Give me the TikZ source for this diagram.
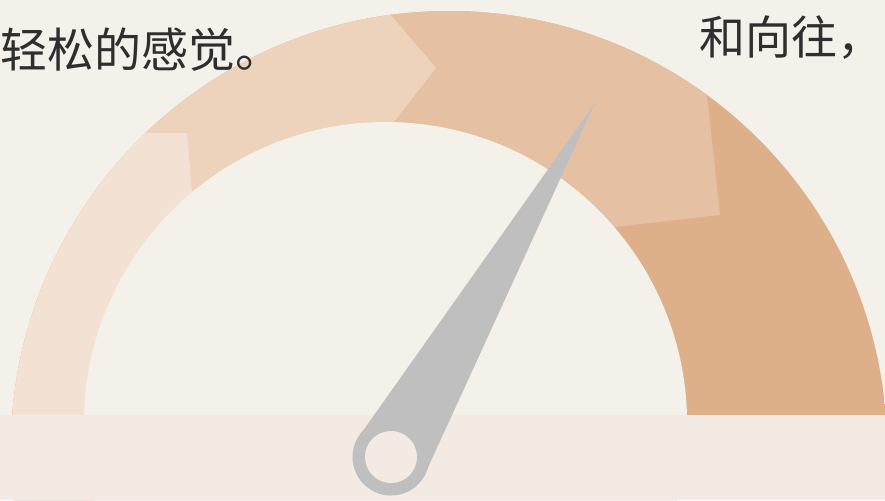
\documentclass[tikz,border=0pt]{standalone}
\usepackage{fontspec}
\newfontfamily\cjk{Noto Sans CJK SC}
\definecolor{bgc}{HTML}{F4F0EA}
\definecolor{bandc}{HTML}{F3EAE4}
\definecolor{segA}{HTML}{F3E2D3}
\definecolor{segB}{HTML}{EDD3BB}
\definecolor{segC}{HTML}{E5C0A3}
\definecolor{segD}{HTML}{DDB08A}
\definecolor{needlec}{HTML}{BFBFBF}
\definecolor{txtc}{HTML}{2E2E2E}
\tikzset{
  caption/.style={anchor=base west, inner sep=0pt, text=txtc},
}
\begin{document}
\begin{tikzpicture}[x=1pt,y=-1pt]
\useasboundingbox (0,0) rectangle (885,500);
\fill[bgc] (0,0) rectangle (885,500);
% gauge ring segments
\begin{scope}
  \clip (449,449) circle (438pt);
  \fill[segD] (0,0) rectangle (885,500);
  \fill[segC] (700,30) -- (720,215) -- (510,239) -- (385,423) -- (385,600) -- (-100,600) -- (-100,-100) -- (700,-100) -- cycle;
  \fill[segB] (367,-13) -- (436,68) -- (350,178) -- (385,423) -- (385,600) -- (-100,600) -- (-100,-13) -- cycle;
  \fill[segA] (100,133) -- (187,133) -- (197,251) -- (385,423) -- (385,600) -- (-100,600) -- (-100,133) -- cycle;
\end{scope}
\fill[bgc] (385.5,423.6) circle (301.6pt);
% bottom band
\fill[bandc] (0,415) rectangle (885,500);
% needle
\coordinate (tip) at (595,103);
\coordinate (piv) at (391,457);
\coordinate (tl) at (360.0,435.0);
\coordinate (tr) at (425.5,472.8);
\fill[needlec] (tip) -- (tl) -- (tr) -- cycle;
\fill[needlec] (piv) circle (38.5pt);
\fill[bandc] (piv) circle (26pt);
% texts
\node[caption, font=\cjk\fontsize{47}{47}\selectfont] (t1) at (0,68) {轻松的感觉。};
\node[caption, font=\cjk\fontsize{46}{46}\selectfont] (t2) at (699,54.5) {和向往，};
\end{tikzpicture}
\end{document}
